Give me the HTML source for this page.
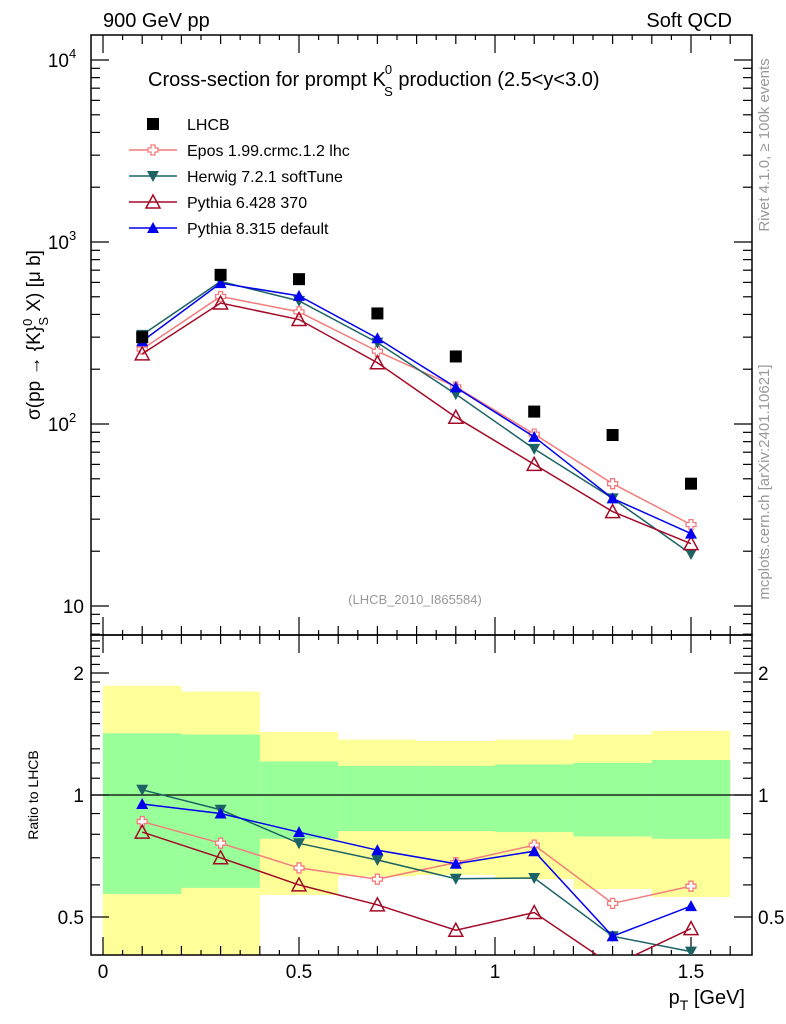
<!DOCTYPE html>
<html><head><meta charset="utf-8"><style>
html,body{margin:0;padding:0;background:#fff;}
svg{display:block;font-family:"Liberation Sans",sans-serif;}
</style></head><body>
<svg id="chart" width="786" height="1024" viewBox="0 0 786 1024" xmlns="http://www.w3.org/2000/svg">
<text x="103" y="27" font-size="20">900 GeV pp</text>
<text x="732" y="27" font-size="20" text-anchor="end">Soft QCD</text>
<text transform="translate(769,145) rotate(-90)" font-size="15" fill="#999" text-anchor="middle">Rivet 4.1.0, ≥ 100k events</text>
<text transform="translate(769,482) rotate(-90)" font-size="15" fill="#999" text-anchor="middle">mcplots.cern.ch [arXiv:2401.10621]</text>
<g id="main"></g>
<g id="ratio"></g>
<text x="148" y="86" font-size="20">Cross-section for prompt K<tspan dx="-1" dy="-12" font-size="13">0</tspan><tspan dx="-8" dy="22" font-size="13">S</tspan><tspan dy="-10"> production (2.5&lt;y&lt;3.0)</tspan></text>
<text x="415" y="604" font-size="13" fill="#999" text-anchor="middle">(LHCB_2010_I865584)</text>
<text transform="translate(40,335) rotate(-90)" font-size="19" text-anchor="middle">σ(pp → {K}<tspan dy="-8" font-size="13">0</tspan><tspan dx="-7" dy="16" font-size="13">S</tspan><tspan dy="-8"> X) [μ b]</tspan></text>
<text transform="translate(38,795) rotate(-90)" font-size="14" text-anchor="middle">Ratio to LHCB</text>
<text x="745" y="1004" font-size="20" text-anchor="end">p<tspan dy="6" font-size="14">T</tspan><tspan dy="-6"> [GeV]</tspan></text>
</svg>
<script>
const xCenters=[0.1,0.3,0.5,0.7,0.9,1.1,1.3,1.5];
const lhcb=[300,660,625,405,235,117,87,47];
const epos=[258,502,413,251,160,88,47,28];
const herwig=[309,607,475,280,146,73,39,19.3];
const py6=[243,462,375,217,109,60,33,22];
const py8=[285,594,506,296,159,85,39,25];
const binEdges=[0,0.2,0.4,0.6,0.8,1.0,1.2,1.4,1.6];
const yellowHi=[1.86,1.80,1.43,1.37,1.36,1.37,1.41,1.44];
const yellowLo=[0.3,0.3,0.567,0.63,0.635,0.62,0.586,0.56];
const greenHi=[1.42,1.41,1.21,1.18,1.18,1.19,1.20,1.22];
const greenLo=[0.57,0.59,0.78,0.815,0.815,0.81,0.79,0.78];
const xTicks=[0,0.5,1,1.5];const xTickLabels=["0","0.5","1","1.5"];

const NS="http://www.w3.org/2000/svg";
const L=91,R=752,T1=35,B1=635,T2=635,B2=955;
const X=v=>103+v*392;
const Y1=v=>606-182*(Math.log10(v)-1);
const Y2=v=>795-122*Math.log2(v);
function mk(p,tag,a){const e=document.createElementNS(NS,tag);for(const k in a)e.setAttribute(k,a[k]);p.appendChild(e);return e;}
const main=document.getElementById('main'),ratio=document.getElementById('ratio');
const svg=document.getElementById('chart');

const clipR=mk(svg,'clipPath',{id:'cr'});mk(clipR,'rect',{x:L,y:T2,width:R-L,height:B2-T2});
const clipM=mk(svg,'clipPath',{id:'cm'});mk(clipM,'rect',{x:L,y:T1,width:R-L,height:B1-T1});
const bands=mk(ratio,'g',{'clip-path':'url(#cr)'});
for(let i=0;i<8;i++){
 const r=mk(bands,'rect',{x:X(binEdges[i]),y:Y2(yellowHi[i]),width:X(binEdges[i+1])-X(binEdges[i]),height:Y2(yellowLo[i])-Y2(yellowHi[i]),fill:'#ffff99'});
 
 
}
for(let i=0;i<8;i++){
 const r=mk(bands,'rect',{x:X(binEdges[i]),y:Y2(greenHi[i]),width:X(binEdges[i+1])-X(binEdges[i]),height:Y2(greenLo[i])-Y2(greenHi[i]),fill:'#99ff99'});
 
 
}
mk(ratio,'line',{x1:L,x2:R,y1:Y2(1),y2:Y2(1),stroke:'#000','stroke-width':1.3});

function frame(g,t,b){mk(g,'rect',{x:L,y:t,width:R-L,height:b-t,fill:'none',stroke:'#000','stroke-width':1.5});
 for(let v=0;v<=1.65;v+=0.05){const maj=Math.abs(v*2-Math.round(v*2))<1e-6;const min10=Math.abs(v*10-Math.round(v*10))<1e-6;const len=maj?18:(min10?9:5);
  mk(g,'line',{x1:X(v),x2:X(v),y1:b,y2:b-len,stroke:'#000','stroke-width':1.2});
  mk(g,'line',{x1:X(v),x2:X(v),y1:t,y2:t+len,stroke:'#000','stroke-width':1.2});}}
frame(main,T1,B1);frame(ratio,T2,B2);
for(let d=0;d<5;d++)for(let m=1;m<10;m++){const v=Math.pow(10,d)*m;const y=Y1(v);if(y<T1||y>B1)continue;const len=m==1?18:9;
 mk(main,'line',{x1:L,x2:L+len,y1:y,y2:y,stroke:'#000','stroke-width':1.2});mk(main,'line',{x1:R,x2:R-len,y1:y,y2:y,stroke:'#000','stroke-width':1.2});}
for(let v=0.4;v<=2.5;v+=0.1){const y=Y2(v);if(y<T2||y>B2)continue;const maj=[0.5,1,2].some(q=>Math.abs(q-v)<1e-6);const len=maj?18:9;
 mk(ratio,'line',{x1:L,x2:L+len,y1:y,y2:y,stroke:'#000','stroke-width':1.2});mk(ratio,'line',{x1:R,x2:R-len,y1:y,y2:y,stroke:'#000','stroke-width':1.2});}
[[10,'10',''],[100,'10','2'],[1000,'10','3'],[10000,'10','4']].forEach(([v,b,e])=>{const t=mk(main,'text',{x:e?62:84,y:Y1(v)+7,'font-size':19,'text-anchor':e?'middle':'end'});t.textContent=b;
 if(e){const s=mk(t,'tspan',{dy:-9,'font-size':13});s.textContent=e;}
 
 });
[[0.5,'0.5'],[1,'1'],[2,'2']].forEach(([v,s])=>{const t=mk(ratio,'text',{x:84,y:Y2(v)+7,'font-size':19,'text-anchor':'end'});t.textContent=s;
 
 
 const t2=mk(ratio,'text',{x:758,y:Y2(v)+7,'font-size':19});t2.textContent=s;
 
 });
xTicks.forEach((v,i)=>{const t=mk(ratio,'text',{x:X(v),y:978,'font-size':19,'text-anchor':'middle'});t.textContent=xTickLabels[i];
 
 });

function marker(g,type,x,y,c){
 if(type=='sq')return mk(g,'rect',{x:x-6,y:y-6,width:12,height:12,fill:c});
 if(type=='cross')return mk(g,'path',{d:`M${x-2},${y-5}h4v3h3v4h-3v3h-4v-3h-3v-4h3z`,fill:'#fff',stroke:c,'stroke-width':1.3});
 if(type=='down')return mk(g,'path',{d:`M${x-6},${y-5}L${x+6},${y-5}L${x},${y+6}z`,fill:c});
 if(type=='oup')return mk(g,'path',{d:`M${x-7},${y+6}L${x+7},${y+6}L${x},${y-7}z`,fill:'none',stroke:c,'stroke-width':1.5});
 if(type=='up')return mk(g,'path',{d:`M${x-6},${y+5}L${x+6},${y+5}L${x},${y-6}z`,fill:c});
}
const series=[['epos',epos,'#f47c7c','cross'],['herwig',herwig,'#1d6366','down'],['pythia6',py6,'#a30a26','oup'],['pythia8',py8,'#0000ee','up']];
const gm=mk(main,'g',{'clip-path':'url(#cm)'}),gr=mk(ratio,'g',{'clip-path':'url(#cr)'});
series.forEach(([n,vals,c,tp])=>{
 const ptsM=xCenters.map((x,i)=>X(x)+','+Y1(vals[i])).join(' ');
 const l=mk(gm,'polyline',{points:ptsM,fill:'none',stroke:c,'stroke-width':1.5});
 
 
 const ptsR=xCenters.map((x,i)=>X(x)+','+Y2(vals[i]/lhcb[i])).join(' ');
 const l2=mk(gr,'polyline',{points:ptsR,fill:'none',stroke:c,'stroke-width':1.5});
 
 
 xCenters.forEach((x,i)=>{const m=marker(gm,tp,X(x),Y1(vals[i]),c);
  
  
  const m2=marker(gr,tp,X(x),Y2(vals[i]/lhcb[i]),c);
  
  });
});
xCenters.forEach((x,i)=>{const m=marker(gm,'sq',X(x),Y1(lhcb[i]),'#000');
 
 });

const leg=[['LHCB','#000','sq'],['Epos 1.99.crmc.1.2 lhc','#f47c7c','cross'],['Herwig 7.2.1 softTune','#1d6366','down'],['Pythia 6.428 370','#a30a26','oup'],['Pythia 8.315 default','#0000ee','up']];
leg.forEach(([s,c,tp],i)=>{const y=124+i*26;const g=mk(main,'g',{});
 
 
 if(tp!='sq')mk(g,'line',{x1:129,x2:177,y1:y,y2:y,stroke:c,'stroke-width':1.5});
 marker(g,tp,153,y,c);
 const t=mk(g,'text',{x:187,y:y+6,'font-size':16});t.textContent=s;});
</script>
</body></html>
